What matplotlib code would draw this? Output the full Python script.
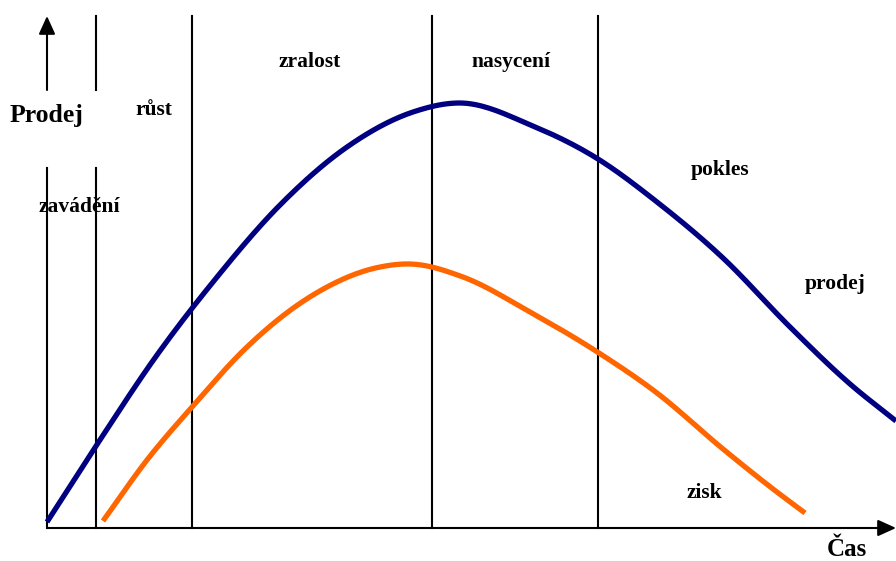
import matplotlib
matplotlib.use('Agg')

import numpy as np
import matplotlib.pyplot as plt

# curves (x = time, y = level, pixel-like units, y grows downward)
prodej_x = [47, 96, 157, 213, 280, 347, 413, 460, 533, 598, 657, 723, 790, 850, 896]
prodej_y = [522, 446, 355, 282, 205, 147, 112, 103, 126, 159, 202, 258, 327, 384, 421]

zisk_x = [103, 147, 192, 247, 313, 380, 410, 463, 530, 599, 657, 723, 773, 805]
zisk_y = [521, 460, 407, 347, 295, 267, 264, 277, 312, 353, 393, 449, 489, 513]

phase_x = [96, 192, 432, 598]
phase_names = ["zavádění", "růst", "zralost", "nasycení", "pokles"]
phase_label_x = [79, 154, 310, 511, 720]
phase_label_y = [207, 110, 62, 62, 170]

x0, y0 = 47, 528     # origin of the axes
top = 16
gap = (90, 168)      # gap where "Prodej" sits


def smooth(xs, ys, n=20):
    # cubic hermite path through the points, only for drawing
    x = np.asarray(xs, float)
    y = np.asarray(ys, float)
    h = np.diff(x)
    d = np.diff(y) / h
    m = np.empty_like(y)
    m[0], m[-1] = d[0], d[-1]
    m[1:-1] = (d[1:] * h[:-1] + d[:-1] * h[1:]) / (h[:-1] + h[1:])
    px, py = [], []
    t = np.linspace(0, 1, n, endpoint=False)
    for i in range(len(x) - 1):
        h00 = 2 * t**3 - 3 * t**2 + 1
        h10 = t**3 - 2 * t**2 + t
        h01 = -2 * t**3 + 3 * t**2
        h11 = t**3 - t**2
        px.append(x[i] + t * h[i])
        py.append(h00 * y[i] + h10 * h[i] * m[i] + h01 * y[i + 1] + h11 * h[i] * m[i + 1])
    px.append([x[-1]])
    py.append([y[-1]])
    return np.concatenate(px), np.concatenate(py)


fig = plt.figure(figsize=(8.96, 5.61), dpi=100)
ax = fig.add_axes([0, 0, 1, 1])
ax.set_xlim(0, 896)
ax.set_ylim(561, 0)
ax.axis('off')

lw = 1.5
# phase separators
for px in phase_x:
    if px == phase_x[0]:
        ax.plot([px, px], [top, gap[0]], color='black', lw=lw)
        ax.plot([px, px], [gap[1], y0], color='black', lw=lw)
    else:
        ax.plot([px, px], [top, y0], color='black', lw=lw)

# y axis with gap and arrow
ax.plot([x0, x0], [gap[1], y0], color='black', lw=lw)
ax.annotate('', xy=(x0, top), xytext=(x0, gap[0]),
            arrowprops=dict(arrowstyle='-|>,head_length=1.1,head_width=0.5',
                            color='black', lw=lw, shrinkA=0, shrinkB=0))
# x axis with arrow
ax.annotate('', xy=(896, y0), xytext=(x0, y0),
            arrowprops=dict(arrowstyle='-|>,head_length=1.1,head_width=0.5',
                            color='black', lw=lw, shrinkA=0, shrinkB=0))

sx, sy = smooth(prodej_x, prodej_y)
ax.plot(sx, sy, color='#000080', lw=3.8, solid_capstyle='butt')
sx, sy = smooth(zisk_x, zisk_y)
ax.plot(sx, sy, color='#FF6600', lw=3.8, solid_capstyle='butt')

font = dict(family='Liberation Serif', weight='bold', ha='center', va='center')
for name, lx, ly in zip(phase_names, phase_label_x, phase_label_y):
    ax.text(lx, ly, name, fontsize=15.5, **font)

ax.text(47, 115, "Prodej", fontsize=18.5, **font)
ax.text(847, 549, "Čas", fontsize=18, **font)
ax.text(835, 284, "prodej", fontsize=15.5, **font)
ax.text(704, 493, "zisk", fontsize=15.5, **font)

plt.savefig("out.png", dpi=100)
